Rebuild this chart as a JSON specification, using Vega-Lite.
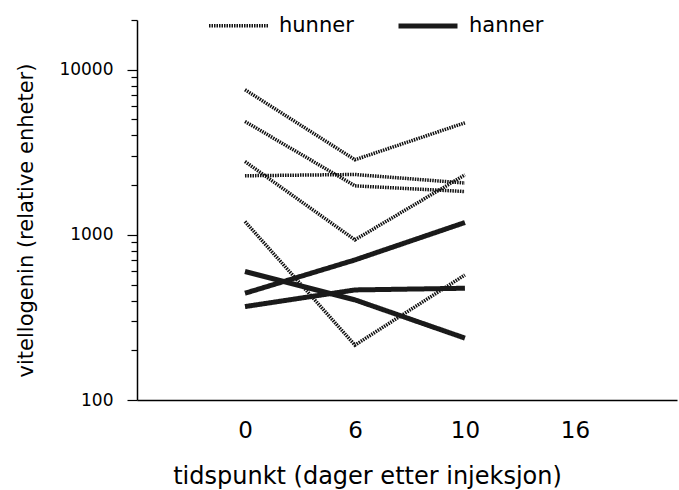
{
  "$schema": "https://vega.github.io/schema/vega-lite/v6.json",
  "width": 540,
  "height": 380,
  "autosize": "none",
  "padding": {"left": 137, "top": 20, "right": 2, "bottom": 90},
  "background": "white",
  "config": {
    "font": "DejaVu Sans",
    "view": {"stroke": null}
  },
  "data": {
    "values": [
      {"id": "h1", "kjonn": "hunner", "dag": "0", "verdi": 7570},
      {"id": "h1", "kjonn": "hunner", "dag": "6", "verdi": 2850},
      {"id": "h1", "kjonn": "hunner", "dag": "10", "verdi": 4770},
      {"id": "h2", "kjonn": "hunner", "dag": "0", "verdi": 4860},
      {"id": "h2", "kjonn": "hunner", "dag": "6", "verdi": 1980},
      {"id": "h2", "kjonn": "hunner", "dag": "10", "verdi": 1830},
      {"id": "h3", "kjonn": "hunner", "dag": "0", "verdi": 2780},
      {"id": "h3", "kjonn": "hunner", "dag": "6", "verdi": 933},
      {"id": "h3", "kjonn": "hunner", "dag": "10", "verdi": 2310},
      {"id": "h4", "kjonn": "hunner", "dag": "0", "verdi": 2280},
      {"id": "h4", "kjonn": "hunner", "dag": "6", "verdi": 2320},
      {"id": "h4", "kjonn": "hunner", "dag": "10", "verdi": 2060},
      {"id": "h5", "kjonn": "hunner", "dag": "0", "verdi": 1205},
      {"id": "h5", "kjonn": "hunner", "dag": "6", "verdi": 215},
      {"id": "h5", "kjonn": "hunner", "dag": "10", "verdi": 572},
      {"id": "m1", "kjonn": "hanner", "dag": "0", "verdi": 443},
      {"id": "m1", "kjonn": "hanner", "dag": "6", "verdi": 705},
      {"id": "m1", "kjonn": "hanner", "dag": "10", "verdi": 1188},
      {"id": "m2", "kjonn": "hanner", "dag": "0", "verdi": 600},
      {"id": "m2", "kjonn": "hanner", "dag": "6", "verdi": 404},
      {"id": "m2", "kjonn": "hanner", "dag": "10", "verdi": 237},
      {"id": "m3", "kjonn": "hanner", "dag": "0", "verdi": 368},
      {"id": "m3", "kjonn": "hanner", "dag": "6", "verdi": 464},
      {"id": "m3", "kjonn": "hanner", "dag": "10", "verdi": 475}
    ]
  },
  "mark": {"type": "line", "strokeJoin": "miter", "strokeCap": "butt"},
  "encoding": {
    "x": {
      "field": "dag",
      "type": "ordinal",
      "sort": ["0", "6", "10", "16"],
      "scale": {"type": "point", "domain": ["0", "6", "10", "16"], "padding": 0.955, "align": 0.514},
      "axis": {
        "title": "tidspunkt (dager etter injeksjon)",
        "labelAngle": 0,
        "labelFontSize": 23,
        "labelColor": "black",
        "labelPadding": 19,
        "ticks": false,
        "grid": false,
        "domainColor": "black",
        "domainWidth": 1.5,
        "titleFontSize": 24,
        "titleFontWeight": "normal",
        "titleColor": "black",
        "titlePadding": 22,
        "titleX": 230
      }
    },
    "y": {
      "field": "verdi",
      "type": "quantitative",
      "scale": {"type": "log", "domain": [100, 20000], "nice": false},
      "axis": {
        "title": "vitellogenin (relative enheter)",
        "values": [100, 200, 300, 400, 500, 600, 700, 800, 900, 1000, 2000, 3000, 4000, 5000, 6000, 7000, 8000, 9000, 10000, 20000],
        "labelExpr": "(datum.value == 100 || datum.value == 1000 || datum.value == 10000) ? format(datum.value, 'd') : ''",
        "tickSize": {"condition": {"test": "datum.value == 100 || datum.value == 1000 || datum.value == 10000", "value": 10}, "value": 6},
        "tickColor": "black",
        "tickWidth": 1.2,
        "labelFontSize": 17,
        "labelColor": "black",
        "labelPadding": 14,
        "labelOverlap": false,
        "grid": false,
        "domainColor": "black",
        "domainWidth": 1.5,
        "titleFontSize": 21,
        "titleFontWeight": "normal",
        "titleColor": "black",
        "titlePadding": 22,
        "titleY": 200
      }
    },
    "detail": {"field": "id"},
    "color": {
      "field": "kjonn",
      "type": "nominal",
      "scale": {"domain": ["hunner", "hanner"], "range": ["#111111", "#1a1a1a"]},
      "legend": {
        "title": null,
        "orient": "none",
        "legendX": 70,
        "legendY": -26,
        "direction": "horizontal",
        "symbolType": "stroke",
        "symbolSize": 3481,
        "labelFontSize": 21,
        "labelColor": "black",
        "labelOffset": 9,
        "columnPadding": 34
      }
    },
    "strokeDash": {
      "field": "kjonn",
      "type": "nominal",
      "scale": {"domain": ["hunner", "hanner"], "range": [[1.5, 1], [1, 0]]},
      "legend": null
    },
    "strokeWidth": {
      "field": "kjonn",
      "type": "nominal",
      "scale": {"domain": ["hunner", "hanner"], "range": [3.5, 5]},
      "legend": null
    }
  }
}
